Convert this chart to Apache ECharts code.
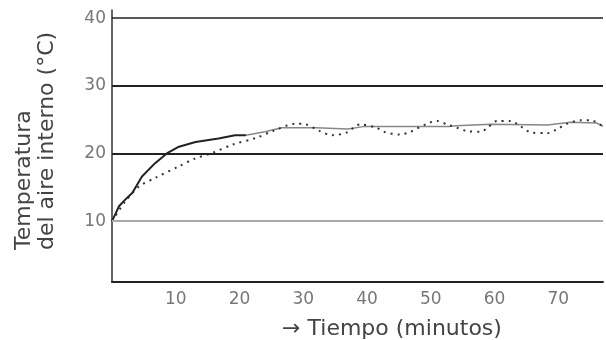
<!DOCTYPE html>
<html>
<head>
<meta charset="utf-8">
<script src="https://cdn.jsdelivr.net/npm/echarts@6/dist/echarts.min.js"></script>
<style>
  html, body { margin: 0; padding: 0; background: #fff; }
  #chart { width: 606px; height: 340px; }
</style>
</head>
<body>
<div id="chart"></div>
<script>
// tiempo (min) / temperatura (°C)
const darkTime = [0, 0.5, 1.1, 2, 3.2, 4.7, 6.8, 8.6, 10.5, 13.1, 16.7, 19.3, 21];
const darkTemp = [10, 11, 12.2, 13.1, 14.2, 16.6, 18.6, 20, 21, 21.7, 22.2, 22.7, 22.7];

const grayTime = [21, 24, 26.6, 32, 37, 39.6, 53, 54, 59.4, 68.3, 71.9, 76, 77];
const grayTemp = [22.7, 23.2, 23.8, 23.8, 23.6, 24, 24, 24.1, 24.3, 24.2, 24.6, 24.5, 24.0];

const dotTime = [0, 2, 4.2, 6.8, 10.5, 12.9, 15.8, 18.9, 22.6, 25.2, 28.9, 30.4, 32.6, 34.5, 36.8,
  38.9, 41.5, 42.6, 45.2, 46.8, 49.4, 51, 52.5, 54.1, 55.7, 57.8, 58.9, 60.4, 62.5, 64.1,
  65.7, 68.3, 69.8, 71.4, 73.6, 75.1, 77];
const dotTemp = [10, 12.8, 15.1, 16.4, 18.1, 19.2, 20.1, 21.3, 22.3, 23.3, 24.4, 24.3, 23.3, 22.7, 23.1,
  24.3, 23.8, 23.2, 22.8, 23.2, 24.4, 24.8, 24.3, 23.8, 23.3, 23.2, 23.8, 24.8, 24.8, 24.0,
  23.1, 23.0, 23.6, 24.4, 24.9, 24.9, 24.0];

const gridValues = [10, 20, 30, 40];
const xTicks = [10, 20, 30, 40, 50, 60, 70];

const font = '"DejaVu Sans", "Liberation Sans", sans-serif';
const zip = (xs, ys) => xs.map((x, i) => [x, ys[i]]);

const chart = echarts.init(document.getElementById('chart'));

chart.setOption({
  animation: false,
  backgroundColor: '#fff',
  grid: { left: 112, right: 0, top: 10, bottom: 58 },
  xAxis: {
    type: 'value',
    min: 0,
    max: 77,
    interval: 10,
    axisLine: { lineStyle: { color: '#222', width: 2 } },
    axisTick: { show: false },
    splitLine: { show: false },
    axisLabel: {
      color: '#777',
      fontFamily: font,
      fontSize: 17,
      margin: 9,
      formatter: v => (xTicks.includes(v) ? String(v) : '')
    }
  },
  yAxis: {
    type: 'value',
    min: 1,
    max: 41.2,
    axisLine: { show: true, lineStyle: { color: '#333', width: 1.5 } },
    axisTick: { show: false },
    splitLine: { show: false },
    axisLabel: {
      color: '#777',
      fontFamily: font,
      fontSize: 17,
      margin: 6,
      formatter: v => (gridValues.includes(v) ? String(v) : '')
    }
  },
  graphic: [
    {
      type: 'text', x: 24, y: 250, rotation: Math.PI / 2,
      style: { text: 'Temperatura', font: '22px ' + font, fill: '#444', align: 'left', verticalAlign: 'middle' }
    },
    {
      type: 'text', x: 47, y: 250, rotation: Math.PI / 2,
      style: { text: 'del aire interno (°C)', font: '22px ' + font, fill: '#444', align: 'left', verticalAlign: 'middle' }
    },
    {
      type: 'text', x: 392, y: 329,
      style: { text: '→ Tiempo (minutos)', font: '22px ' + font, fill: '#444', align: 'center', verticalAlign: 'middle' }
    }
  ],
  series: [
    {
      name: 'rejilla',
      type: 'line',
      data: [],
      silent: true,
      markLine: {
        silent: true,
        symbol: 'none',
        label: { show: false },
        data: gridValues.map(v => ({
          yAxis: v,
          lineStyle: {
            type: 'solid',
            color: v === 10 ? '#aaa' : '#222',
            width: v === 40 ? 1.5 : 2
          }
        }))
      }
    },
    {
      name: 'gris',
      type: 'line',
      data: zip(grayTime, grayTemp),
      showSymbol: false,
      lineStyle: { color: '#888', width: 1.5 }
    },
    {
      name: 'punteado',
      type: 'line',
      data: zip(dotTime, dotTemp),
      smooth: 0.3,
      showSymbol: false,
      lineStyle: { color: '#333', width: 2, type: [2, 5] }
    },
    {
      name: 'oscuro',
      type: 'line',
      data: zip(darkTime, darkTemp),
      showSymbol: false,
      lineStyle: { color: '#222', width: 2 }
    }
  ]
});
</script>
</body>
</html>
